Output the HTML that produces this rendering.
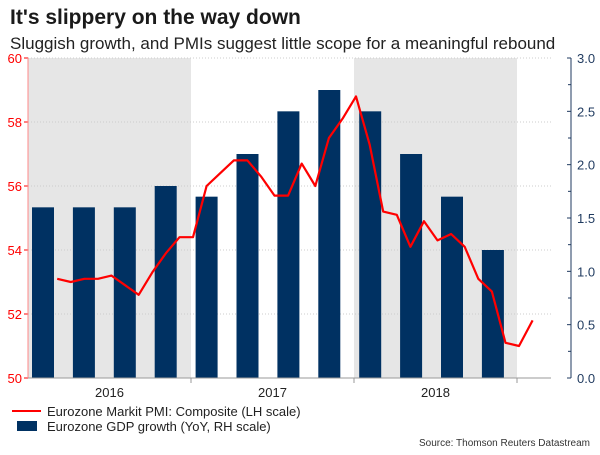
<!DOCTYPE html>
<html><head><meta charset="utf-8"><style>
body{margin:0;background:#fff;}
svg text{font-family:"Liberation Sans",Arial,sans-serif;}
</style></head><body>
<svg id="chart" width="600" height="450" xmlns="http://www.w3.org/2000/svg">
<text x="10" y="24" font-size="21" font-weight="bold" fill="#1a1a1a">It's slippery on the way down</text>
<text x="10" y="49" font-size="17" fill="#222">Sluggish growth, and PMIs suggest little scope for a meaningful rebound</text>
<g id="plot"></g>
<g>
<line x1="12" y1="411" x2="41" y2="411" stroke="#f00" stroke-width="2"/>
<text x="47" y="416" font-size="13" fill="#222">Eurozone Markit PMI: Composite (LH scale)</text>
<rect x="17" y="421" width="20" height="10" fill="#003162"/>
<text x="47" y="431" font-size="13" fill="#222">Eurozone GDP growth (YoY, RH scale)</text>
</g>
<text x="590" y="446" font-size="10" text-anchor="end" fill="#333">Source: Thomson Reuters Datastream</text>
</svg>
<script>
const years=["2016","2017","2018"];
const gdp=[1.6,1.6,1.6,1.8,1.7,2.1,2.5,2.7,2.5,2.1,1.7,1.2];
const pmi=[53.1,53.0,53.1,53.1,53.2,52.9,52.6,53.3,53.9,54.4,54.4,56.0,56.4,56.8,56.8,56.3,55.7,55.7,56.7,56.0,57.5,58.1,58.8,57.3,55.2,55.1,54.1,54.9,54.3,54.5,54.1,53.1,52.7,51.1,51.0,51.8];
const leftTicks=[50,52,54,56,58,60];
const rightTicks=["0.0","0.5","1.0","1.5","2.0","2.5","3.0"];
const NS="http://www.w3.org/2000/svg";
const g=document.getElementById('plot');
const X0=28,X1=551,Y0=378,Y1=58,YEARW=163;
const yL=v=>Y0-(v-50)/10*(Y0-Y1);
const yR=v=>Y0-v/3*(Y0-Y1);
const yearX=i=>X0+i*YEARW;
const qX=q=>X0+15+q*40.9;
const mX=i=>X0+(i+2.15)*YEARW/12;
function el(t,a){const e=document.createElementNS(NS,t);for(const k in a)e.setAttribute(k,a[k]);g.appendChild(e);return e;}
years.forEach((y,i)=>{if(i%2===0){const r=el('rect',{x:yearX(i),y:Y1,width:YEARW,height:Y0-Y1,fill:'#e6e6e6'});

}});
leftTicks.forEach(v=>{if(v>50){const l=el('line',{x1:X0,x2:X1,y1:yL(v),y2:yL(v),stroke:'#ccc','stroke-dasharray':'1,2'});

}
const t=el('text',{x:22,y:yL(v)+5,'font-size':13,'text-anchor':'end',fill:'#f00'});t.textContent=v;


const tk=el('line',{x1:X0-4,x2:X0,y1:yL(v),y2:yL(v),stroke:'#f00'});

});
gdp.forEach((v,q)=>{const r=el('rect',{x:qX(q)-11,y:yR(v),width:22,height:Y0-yR(v),fill:'#003162'});

});
const pts=pmi.map((v,i)=>mX(i).toFixed(1)+','+yL(v).toFixed(1)).join(' ');
const pl=el('polyline',{points:pts,fill:'none',stroke:'#f00','stroke-width':2.2,'stroke-linejoin':'round'});


const la=el('line',{x1:X0,x2:X0,y1:Y1,y2:Y0,stroke:'#f88'});


const xa=el('line',{x1:X0,x2:X1,y1:Y0,y2:Y0,stroke:'#999'});


years.forEach((y,i)=>{const t=el('text',{x:yearX(i)+YEARW/2,y:397,'font-size':13,'text-anchor':'middle',fill:'#222'});t.textContent=y;


const tk=el('line',{x1:yearX(i+1),x2:yearX(i+1),y1:Y0,y2:Y0+5,stroke:'#999'});

});
const RA=571;
const ra=el('line',{x1:RA,x2:RA,y1:Y1,y2:Y0,stroke:'#1f3a5f'});


rightTicks.forEach(s=>{const v=parseFloat(s);
const tk=el('line',{x1:RA-4,x2:RA,y1:yR(v),y2:yR(v),stroke:'#1f3a5f'});


if(v<3){const m=el('line',{x1:RA-3,x2:RA,y1:yR(v+0.25),y2:yR(v+0.25),stroke:'#1f3a5f'});

}
const t=el('text',{x:577,y:yR(v)+5,'font-size':13,fill:'#1f3a5f'});t.textContent=s;

});
</script>
</body></html>
